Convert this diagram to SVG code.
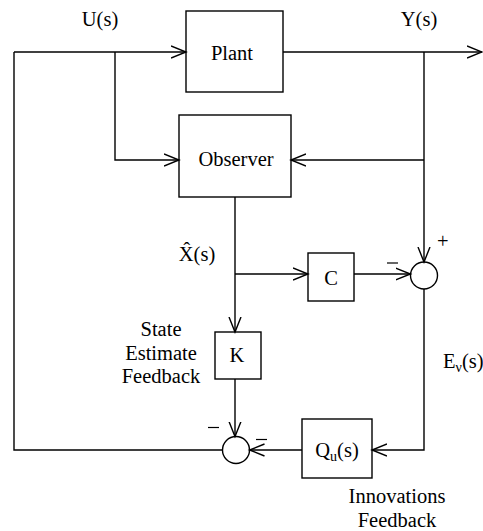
<svg xmlns="http://www.w3.org/2000/svg" width="483" height="531" viewBox="0 0 483 531">
<defs>
<marker id="arr" markerUnits="userSpaceOnUse" markerWidth="20" markerHeight="16" refX="15" refY="7" orient="auto" viewBox="0 0 20 14">
<path d="M0,1 L15,7 L0,13" fill="none" stroke="#000" stroke-width="1.4"/>
</marker>
</defs>
<style>
rect,circle{fill:#fff;stroke:#000;stroke-width:1.4}
.c line,.c polyline{fill:none;stroke:#000;stroke-width:1.4}
text{font-family:"Liberation Serif","Times New Roman",serif;font-size:20.5px;fill:#000}
.m{text-anchor:middle}
</style>
<g id="plant"><rect x="186" y="11" width="97" height="81"/><text class="m" x="232" y="60">Plant</text></g>
<g id="observer"><rect x="179" y="115" width="112" height="82"/><text class="m" x="236" y="166">Observer</text></g>
<g id="c"><rect x="308" y="253" width="46" height="48"/><text class="m" x="331" y="285">C</text></g>
<g id="k"><rect x="215" y="332" width="46" height="47"/><text class="m" x="237" y="362">K</text></g>
<g id="q"><rect x="302" y="419" width="70" height="59"/><text class="m" x="337" y="457">Q<tspan font-size="14" dy="4">u</tspan><tspan dy="-4">(s)</tspan></text></g>
<g id="sum1"><circle cx="424" cy="275.5" r="13.5"/></g>
<g id="sum2"><circle cx="236" cy="450" r="13.5"/></g>
<g class="c" id="connectors">
<line x1="14" y1="52" x2="186" y2="52" marker-end="url(#arr)"/>
<polyline points="115,52 115,160 179,160" marker-end="url(#arr)"/>
<line x1="283" y1="52" x2="482" y2="52" marker-end="url(#arr)"/>
<line x1="424" y1="52" x2="424" y2="262" marker-end="url(#arr)"/>
<line x1="424" y1="160" x2="291" y2="160" marker-end="url(#arr)"/>
<line x1="235" y1="197" x2="235" y2="332" marker-end="url(#arr)"/>
<line x1="235" y1="274" x2="308" y2="274" marker-end="url(#arr)"/>
<line x1="354" y1="274" x2="410.5" y2="274" marker-end="url(#arr)"/>
<line x1="235" y1="379" x2="235" y2="436.5" marker-end="url(#arr)"/>
<polyline points="424,289 424,450 372,450" marker-end="url(#arr)"/>
<line x1="302" y1="450" x2="249.5" y2="450" marker-end="url(#arr)"/>
<polyline points="222.5,450 14,450 14,52"/>
</g>
<g id="labels">
<text class="m" x="100" y="26">U(s)</text>
<text class="m" x="419" y="26">Y(s)</text>
<text class="m" x="197" y="261">X̂(s)</text>
<text x="437" y="248" font-size="16">+</text>
<line x1="387" y1="263" x2="398" y2="263" stroke="#000" stroke-width="1.2"/>
<line x1="208" y1="427.5" x2="219" y2="427.5" stroke="#000" stroke-width="1.2"/>
<line x1="256" y1="439.5" x2="267" y2="439.5" stroke="#000" stroke-width="1.2"/>
<text x="443" y="368">E<tspan font-size="14" dy="4">ν</tspan><tspan dy="-4">(s)</tspan></text>
<text class="m" x="161" y="336">State</text>
<text class="m" x="161" y="360">Estimate</text>
<text class="m" x="161" y="383">Feedback</text>
<text class="m" x="397" y="503">Innovations</text>
<text class="m" x="397" y="527">Feedback</text>
</g>
</svg>
